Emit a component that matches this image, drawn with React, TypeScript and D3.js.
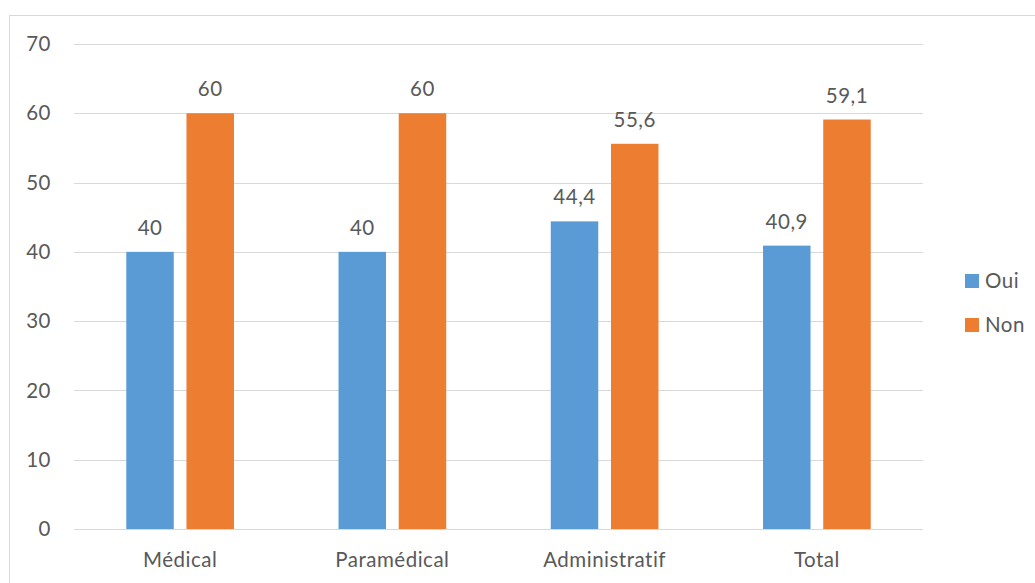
import React from "react";
import * as d3 from "d3";

const categories = ["Médical", "Paramédical", "Administratif", "Total"];
const seriesNames = ["Oui", "Non"];
const ouiValues = [40, 40, 44.4, 40.9];
const nonValues = [60, 60, 55.6, 59.1];
const yTicks = [0, 10, 20, 30, 40, 50, 60, 70];
const colors = ["#5B9BD5", "#ED7D31"];

const W = 1035;
const H = 583;
const plot = { left: 74, right: 923, top: 44, bottom: 529 };
const font = "Lato, 'Open Sans', 'Liberation Sans', sans-serif";
const textColor = "#595959";
const fontSize = 20.5;
const spacing = 0.5;

const fmt = (v: number) => String(v).replace(".", ",");

export default function App() {
  const x = d3
    .scaleBand<string>()
    .domain(categories)
    .range([plot.left, plot.right]);
  const y = d3.scaleLinear().domain([0, 70]).range([plot.bottom, plot.top]);
  const barW = 47.5;
  const gap = 12.7;
  const series = [ouiValues, nonValues];

  return (
    <svg
      width={W}
      height={H}
      style={{ position: "absolute", left: 0, top: 0, background: "#fff" }}
      fontFamily={font}
      letterSpacing={spacing}
    >
      <rect x={9.5} y={15.5} width={1040} height={580} fill="#fff" stroke="#d9d9d9" strokeWidth={1} />
      {yTicks.map((t) => (
        <g key={t}>
          <line
            x1={plot.left}
            x2={plot.right}
            y1={Math.round(y(t)) + 0.5}
            y2={Math.round(y(t)) + 0.5}
            stroke="#d9d9d9"
            strokeWidth={1}
          />
          <text x={51} y={y(t)} dy="0.35em" textAnchor="end" fontSize={fontSize} fill={textColor}>
            {t}
          </text>
        </g>
      ))}
      {categories.map((c, i) => {
        const center = x(c)! + x.bandwidth() / 2;
        return (
          <g key={c}>
            {series.map((vals, s) => {
              const bx = center + (s === 0 ? -gap / 2 - barW : gap / 2);
              return (
                <g key={s}>
                  <rect
                    x={bx}
                    y={y(vals[i])}
                    width={barW}
                    height={y(0) - y(vals[i])}
                    fill={colors[s]}
                  />
                  <text
                    x={bx + barW / 2}
                    y={y(vals[i]) - 17}
                    textAnchor="middle"
                    fontSize={fontSize}
                    fill={textColor}
                  >
                    {fmt(vals[i])}
                  </text>
                </g>
              );
            })}
            <text x={center} y={567} textAnchor="middle" fontSize={fontSize} fill={textColor}>
              {c}
            </text>
          </g>
        );
      })}
      {seriesNames.map((n, s) => (
        <g key={n} transform={`translate(965, ${274 + s * 44})`}>
          <rect width={14} height={14} fill={colors[s]} />
          <text x={20} y={7} dy="0.36em" fontSize={fontSize} fill={textColor}>
            {n}
          </text>
        </g>
      ))}
    </svg>
  );
}
